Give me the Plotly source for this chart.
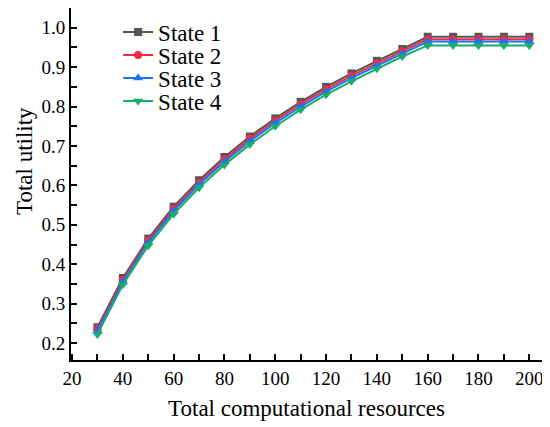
import plotly.graph_objects as go

# Total computational resources
resources = [30, 40, 50, 60, 70, 80, 90, 100, 110, 120, 130, 140, 150, 160, 170, 180, 190, 200]

state_1 = [0.240, 0.365, 0.465, 0.546, 0.613, 0.672, 0.724, 0.770, 0.812, 0.850,
           0.884, 0.916, 0.946, 0.977, 0.977, 0.977, 0.977, 0.977]
state_2 = [0.235, 0.360, 0.460, 0.540, 0.607, 0.666, 0.718, 0.764, 0.806, 0.844,
           0.878, 0.910, 0.940, 0.971, 0.971, 0.971, 0.971, 0.971]
state_3 = [0.230, 0.355, 0.455, 0.535, 0.602, 0.660, 0.712, 0.758, 0.800, 0.838,
           0.872, 0.904, 0.934, 0.965, 0.965, 0.965, 0.965, 0.965]
state_4 = [0.222, 0.348, 0.447, 0.527, 0.594, 0.652, 0.704, 0.750, 0.792, 0.830,
           0.864, 0.896, 0.927, 0.955, 0.955, 0.955, 0.955, 0.955]

series = [
    ("State 1", state_1, "#555555", "square", 8),
    ("State 2", state_2, "#f5293f", "circle", 8),
    ("State 3", state_3, "#1f74f2", "triangle-up", 9),
    ("State 4", state_4, "#17ad6b", "triangle-down", 9),
]

font = "Liberation Serif"
black = 'black'

fig = go.Figure()
# one legend per trace so the rows can sit as tight as in the original
legend_ids = ['legend', 'legend2', 'legend3', 'legend4']
legend_rows = [0.932, 0.866, 0.801, 0.736]

for (name, values, color, symbol, msize), lid in zip(series, legend_ids):
    fig.add_trace(go.Scatter(
        x=resources,
        y=values,
        mode='lines+markers',
        name=name,
        legend=lid,
        line=dict(color=color, width=2),
        marker=dict(symbol=symbol, size=msize, color=color),
    ))

legend_style = dict(
    x=0.1, xanchor='left', yanchor='middle',
    bgcolor='rgba(0,0,0,0)',
    font=dict(family=font, size=23, color=black),
    itemsizing='trace',
)

# page body has an 8px margin, so the figure is a bit smaller than the window
fig.update_layout(
    width=542,
    height=419,
    margin=dict(l=63, r=8, t=0, b=67),
    plot_bgcolor='white',
    paper_bgcolor='white',
    font=dict(family=font, size=19, color=black),
    showlegend=True,
    legend=dict(y=legend_rows[0], **legend_style),
    legend2=dict(y=legend_rows[1], **legend_style),
    legend3=dict(y=legend_rows[2], **legend_style),
    legend4=dict(y=legend_rows[3], **legend_style),
)

fig.update_xaxes(
    range=[19.6, 205],
    automargin=False,
    tickvals=[20, 40, 60, 80, 100, 120, 140, 160, 180, 200],
    tickfont=dict(family=font, size=19, color=black),
    ticks='inside', ticklen=6, tickwidth=1.5, tickcolor=black,
    minor=dict(tickvals=[30, 50, 70, 90, 110, 130, 150, 170, 190],
               ticks='inside', ticklen=6, tickwidth=1.5, tickcolor=black),
    showline=True, linecolor=black, linewidth=2, mirror=True,
    showgrid=False, zeroline=False,
    title=dict(text='Total computational resources',
               font=dict(family=font, size=23, color=black), standoff=12),
)

fig.update_yaxes(
    range=[0.157, 1.05],
    automargin=False,
    tickvals=[0.2, 0.3, 0.4, 0.5, 0.6, 0.7, 0.8, 0.9, 1.0],
    ticktext=['0.2', '0.3', '0.4', '0.5', '0.6', '0.7', '0.8', '0.9', '1.0'],
    tickfont=dict(family=font, size=19, color=black),
    ticks='inside', ticklen=6, tickwidth=1.5, tickcolor=black,
    minor=dict(tickvals=[0.25, 0.35, 0.45, 0.55, 0.65, 0.75, 0.85, 0.95],
               ticks='inside', ticklen=6, tickwidth=1.5, tickcolor=black),
    showline=True, linecolor=black, linewidth=2, mirror=True,
    showgrid=False, zeroline=False,
)

# y title as an annotation: it sits a bit above centre, as in the original
fig.add_annotation(
    text='Total utility', textangle=-90,
    xref='paper', yref='paper', x=-0.1, y=0.565,
    xanchor='center', yanchor='middle', showarrow=False,
    font=dict(family=font, size=23, color=black),
)

fig.write_html("out.html")
